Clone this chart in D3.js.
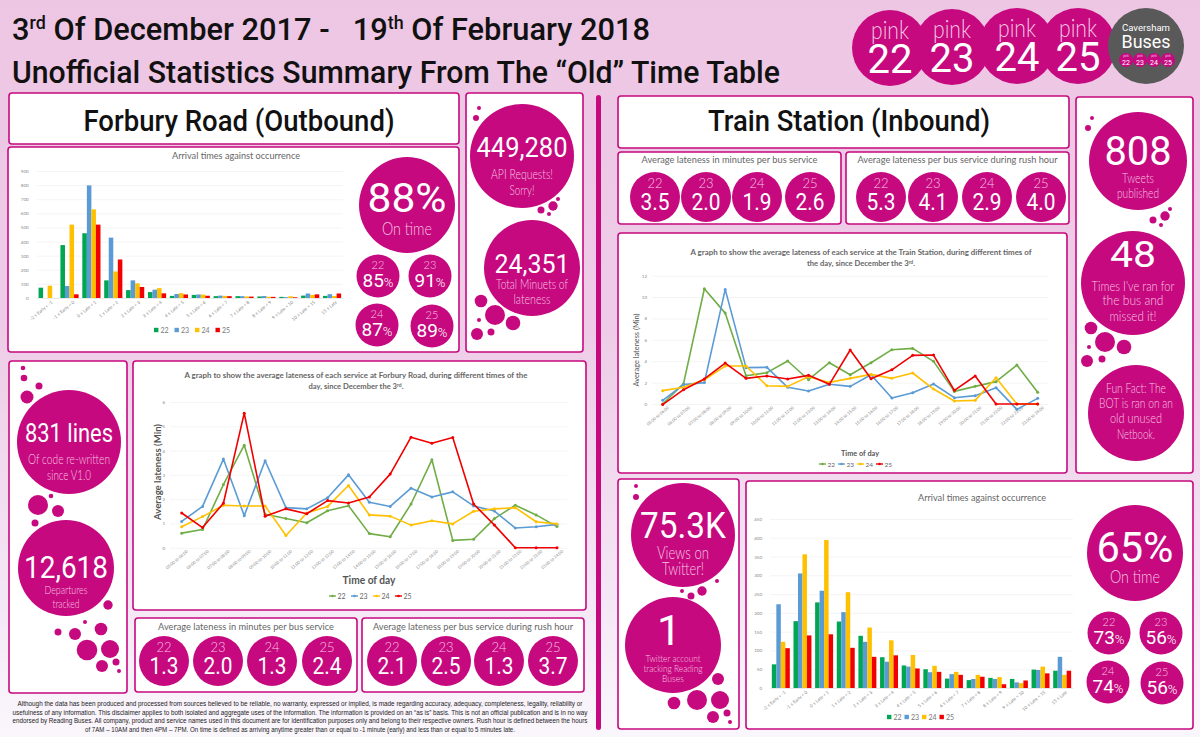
<!DOCTYPE html>
<html>
<head>
<meta charset="utf-8">
<script src="https://cdn.jsdelivr.net/npm/d3@7"></script>
<style>
html, body { margin: 0; padding: 0; background: #f5e6f3; overflow: hidden; }
svg { display: block; }
</style>
</head>
<body>
<div class="container"></div>
<script>
// services + values
const services = ["22", "23", "24", "25"]
const arrivalBands = ["-2 ≤ Early < -1", "-1 ≤ Early < 0", "0 ≤ Late < 1", "1 ≤ Late < 2", "2 ≤ Late < 3", "3 ≤ Late < 4", "4 ≤ Late < 5", "5 ≤ Late < 6", "6 ≤ Late < 7", "7 ≤ Late < 8", "8 ≤ Late < 9", "9 ≤ Late < 10", "10 ≤ Late < 15", "15 ≤ Late"]
const hours = ["05:00 to 06:00", "06:00 to 07:00", "07:00 to 08:00", "08:00 to 09:00", "09:00 to 10:00", "10:00 to 11:00", "11:00 to 12:00", "12:00 to 13:00", "13:00 to 14:00", "14:00 to 15:00", "15:00 to 16:00", "16:00 to 17:00", "17:00 to 18:00", "18:00 to 19:00", "19:00 to 20:00", "20:00 to 21:00", "21:00 to 22:00", "22:00 to 23:00", "23:00 to 24:00"]

const forburyArr22 = [73, 375, 459, 125, 56, 42, 15, 22, 13, 13, 11, 8, 17, 15]
const forburyArr23 = [0, 85, 798, 428, 125, 59, 28, 25, 17, 13, 14, 6, 32, 27]
const forburyArr24 = [87, 520, 628, 188, 104, 70, 34, 24, 15, 11, 9, 12, 22, 14]
const forburyArr25 = [0, 26, 520, 273, 78, 33, 25, 16, 13, 10, 8, 5, 26, 32]

const trainArr22 = [63, 178, 228, 177, 139, 82, 60, 50, 25, 21, 27, 24, 49, 46]
const trainArr23 = [223, 305, 259, 202, 123, 70, 57, 42, 37, 24, 24, 15, 48, 83]
const trainArr24 = [123, 356, 394, 255, 161, 127, 88, 59, 43, 35, 29, 13, 57, 35]
const trainArr25 = [106, 140, 143, 107, 83, 87, 52, 43, 35, 30, 10, 20, 39, 46]

const forburyLate22 = [0.6, 0.75, 2.6, 4.22, 1.38, 1.2, 1.03, 1.52, 1.73, 0.58, 0.45, 1.8, 3.62, 0.3, 0.35, 1.2, 1.75, 1.35, 0.87]
const forburyLate23 = [1.08, 1.7, 3.65, 1.32, 3.58, 1.65, 1.6, 2.06, 3.0, 1.87, 1.7, 2.45, 2.09, 2.3, 1.72, 1.51, 0.81, 0.86, 0.96]
const forburyLate24 = [0.86, 1.28, 1.75, 1.72, 1.72, 0.5, 1.43, 1.7, 2.56, 1.35, 1.3, 0.93, 1.11, 0.98, 1.5, 1.6, 1.65, 1.07, 0.98]
const forburyLate25 = [1.43, 0.83, 1.83, 5.54, 1.3, 1.6, 1.4, 1.94, 1.84, 2.09, 3.03, 4.55, 4.3, 4.54, 1.8, 0.93, 0, 0, 0]

const trainLate22 = [0, 1.9, 10.78, 8.5, 2.65, 2.93, 4.02, 2.27, 3.86, 2.74, 3.86, 5.08, 5.2, 3.99, 1.18, 1.65, 2.09, 3.64, 1.09]
const trainLate23 = [0.34, 1.81, 2.0, 10.72, 3.4, 3.43, 1.56, 1.21, 1.84, 1.65, 2.74, 0.56, 1.06, 1.87, 0.59, 0.78, 1.53, -0.5, 0.53]
const trainLate24 = [1.25, 1.56, 2.27, 3.55, 3.55, 1.71, 1.65, 2.55, 2.02, 2.4, 2.77, 2.4, 2.9, 1.4, 0.28, 0.34, 2.46, 0, 0]
const trainLate25 = [-0.05, 1.34, 2.34, 3.83, 2.4, 2.62, 2.34, 2.68, 1.84, 5.05, 2.37, 3.2, 4.55, 4.58, 1.28, 2.62, 0, 0, 0]

const forburyOnTime = ["85", "91", "87", "89"]
const trainOnTime = ["73", "56", "74", "56"]
const forburyAvg = ["1.3", "2.0", "1.3", "2.4"]
const forburyRush = ["2.1", "2.5", "1.3", "3.7"]
const trainAvg = ["3.5", "2.0", "1.9", "2.6"]
const trainRush = ["5.3", "4.1", "2.9", "4.0"]

const disclaimer = [
  "Although the data has been produced and processed from sources believed to be reliable, no warranty, expressed or implied, is made regarding accuracy, adequacy, completeness, legality, reliability or",
  "usefulness of any information. This disclaimer applies to both isolated and aggregate uses of the information. The information is provided on an “as is” basis. This is not an official publication and is in no way",
  "endorsed by Reading Buses. All company, product and service names used in this document are for identification purposes only and belong to their respective owners. Rush hour is defined between the hours",
  "of 7AM – 10AM and then 4PM – 7PM. On time is defined as arriving anytime greater than or equal to -1 minute (early) and less than or equal to 5 minutes late."
]

const PINK = "#c6097f"
const PALE = "#f6c4e2"
const barColors = ["#00a651", "#5b9bd5", "#ffc000", "#f00000"]
const lineColors = ["#70ad47", "#5b9bd5", "#ffc000", "#f00000"]
const NUM_FONT = "Roboto, sans-serif"
const THIN_FONT = "Lato, sans-serif"

const svg = d3.select(".container").append("svg").attr("width", 1200).attr("height", 737)

const grad = svg.append("defs").append("linearGradient").attr("id", "bg")
  .attr("x1", 0).attr("y1", 0).attr("x2", 0).attr("y2", 1)
grad.append("stop").attr("offset", "0%").attr("stop-color", "#edc6e3")
grad.append("stop").attr("offset", "45%").attr("stop-color", "#eeccE7")
grad.append("stop").attr("offset", "80%").attr("stop-color", "#f4e6f5")
grad.append("stop").attr("offset", "100%").attr("stop-color", "#faf7fc")
svg.append("rect").attr("width", 1200).attr("height", 737).attr("fill", "url(#bg)")

function txt(x, y, s, size, opts = {}) {
  const t = svg.append("text")
    .attr("x", x).attr("y", y)
    .attr("font-size", size)
    .attr("font-family", opts.font || NUM_FONT)
    .attr("font-weight", opts.weight || 400)
    .attr("fill", opts.fill || "#fff")
    .attr("text-anchor", opts.anchor || "middle")
    .text(s)
  if (opts.width) t.attr("textLength", opts.width).attr("lengthAdjust", "spacingAndGlyphs")
  return t
}

function panel(x0, y0, x1, y1) {
  svg.append("rect").attr("x", x0).attr("y", y0).attr("width", x1 - x0).attr("height", y1 - y0)
    .attr("rx", 3).attr("fill", "#fff").attr("stroke", PINK).attr("stroke-width", 1.6)
}

function blob(cx, cy, r, fill) {
  svg.append("circle").attr("cx", cx).attr("cy", cy).attr("r", r).attr("fill", fill || PINK)
}

// x, y, r of the little decorative bubbles
function bubbles(list) {
  list.forEach(b => blob(b[0], b[1], b[2]))
}

// sub text in a circle
function subLines(cx, lines, lineSize, lineBases, lineWidths) {
  lines.forEach((l, i) => txt(cx, lineBases[i], l, lineSize, {font: THIN_FONT, weight: 300, fill: PALE, width: lineWidths[i]}))
}

// large stat circle, lines = sub text under the number
function stat(cx, cy, r, value, size, width, base, lines, lineSize, lineBases, lineWidths = []) {
  blob(cx, cy, r)
  txt(cx, base, value, size, {weight: 400, width: width})
  subLines(cx, lines, lineSize, lineBases, lineWidths)
}

// small circle: service above, percentage below
function pct(cx, cy, service, value) {
  blob(cx, cy, 21.5)
  txt(cx, cy - 7, service, 11, {font: THIN_FONT, weight: 300, fill: PALE})
  const t = txt(cx, cy + 10.5, value, 19, {weight: 400})
  t.append("tspan").attr("font-size", 13).attr("font-weight", 300).text("%")
}

// row of four circles inside a lateness panel
function lateRow(x0, y0, x1, y1, title, titleWidth, values, centres, cy, titleY) {
  panel(x0, y0, x1, y1)
  txt((x0 + x1) / 2, titleY, title, 9.5, {font: THIN_FONT, fill: "#666", width: titleWidth})
  values.forEach((v, i) => {
    blob(centres[i], cy, 25)
    txt(centres[i], cy - 9, services[i], 13, {font: THIN_FONT, weight: 300, fill: PALE})
    txt(centres[i], cy + 13, v, 24, {weight: 400, width: 29})
  })
}

function barChart(series, box, maxY, tickStep, title, titleX, titleY, legendX, legendY) {
  const y = d3.scaleLinear().domain([0, maxY]).range([box.y0, box.y1])
  const x = d3.scaleBand().domain(arrivalBands).range([box.x0, box.x1]).paddingInner(0.17).paddingOuter(0.085)
  const xs = d3.scaleBand().domain(services).range([0, x.bandwidth()])

  const yAxis = d3.axisLeft(y).tickValues(d3.range(0, maxY + 1, tickStep)).tickSize(box.x0 - box.x1).tickPadding(8)
  const yG = svg.append("g").attr("transform", `translate(${box.x0},0)`).call(yAxis)
  yG.select(".domain").remove()
  yG.selectAll("line").attr("stroke", "#ececec").attr("stroke-width", 0.6)
  yG.selectAll("text").attr("font-size", 4.5).attr("fill", "#888").attr("font-family", THIN_FONT)

  series.forEach((vals, s) => {
    svg.append("g").selectAll("rect").data(vals).enter().append("rect")
      .attr("x", (d, i) => x(arrivalBands[i]) + xs(services[s]))
      .attr("y", d => y(d))
      .attr("width", xs.bandwidth())
      .attr("height", d => y(0) - y(d))
      .attr("fill", barColors[s])
  })

  const xG = svg.append("g").attr("transform", `translate(0,${box.y0})`).call(d3.axisBottom(x).tickSize(0).tickPadding(5))
  xG.select(".domain").attr("stroke", "#e0e0e0").attr("stroke-width", 0.6)
  xG.selectAll("text").attr("font-size", 4.5).attr("fill", "#888").attr("font-family", THIN_FONT)
    .attr("text-anchor", "end").attr("transform", "rotate(-40)").attr("dx", 1).attr("dy", 2)

  txt(titleX, titleY, title, 9.5, {font: THIN_FONT, fill: "#666", width: 128})
  services.forEach((s, i) => {
    svg.append("rect").attr("x", legendX + i * box.legendStep).attr("y", legendY - 2.2).attr("width", 4.4).attr("height", 4.4).attr("fill", barColors[i])
    txt(legendX + i * box.legendStep + 6.5, legendY + 2.6, s, 7, {font: THIN_FONT, fill: "#777", anchor: "start"})
  })
}

function lineChart(series, box, maxY, tickStep) {
  const y = d3.scaleLinear().domain([0, maxY]).range([box.y0, box.y1])
  const x = d3.scalePoint().domain(hours).range([box.xFirst, box.xLast])

  const yAxis = d3.axisLeft(y).tickValues(d3.range(0, maxY + 1, tickStep)).tickFormat(d3.format("d")).tickSize(box.gridL - box.gridR).tickPadding(5)
  const yG = svg.append("g").attr("transform", `translate(${box.gridL},0)`).call(yAxis)
  yG.select(".domain").remove()
  yG.selectAll("line").attr("stroke", "#efefef").attr("stroke-width", 0.7)
  yG.selectAll("text").attr("font-size", 4.5).attr("fill", "#888").attr("font-family", THIN_FONT)

  const xG = svg.append("g").attr("transform", `translate(0,${box.y0})`).call(d3.axisBottom(x).tickSize(0).tickPadding(box.tickPad))
  xG.select(".domain").remove()
  xG.selectAll("text").attr("font-size", 4.2).attr("fill", "#888").attr("font-family", THIN_FONT)
    .attr("text-anchor", "end").attr("transform", "rotate(-40)").attr("dx", 2).attr("dy", 2)

  const line = d3.line().x((d, i) => x(hours[i])).y(d => y(d))
  series.forEach((vals, s) => {
    svg.append("path").datum(vals).attr("d", line).attr("fill", "none")
      .attr("stroke", lineColors[s]).attr("stroke-width", 1.6).attr("stroke-linejoin", "round")
    svg.append("g").selectAll("circle").data(vals).enter().append("circle")
      .attr("cx", (d, i) => x(hours[i])).attr("cy", d => y(d)).attr("r", 1.5).attr("fill", lineColors[s])
  })
}

function lineLegend(x0, step, ly, size) {
  services.forEach((s, i) => {
    const lx = x0 + i * step
    svg.append("line").attr("x1", lx).attr("x2", lx + 7).attr("y1", ly).attr("y2", ly).attr("stroke", lineColors[i]).attr("stroke-width", 1.4)
    blob(lx + 3.5, ly, 1.3, lineColors[i])
    txt(lx + 8.5, ly + 2.6, s, size, {font: THIN_FONT, fill: "#666", anchor: "start"})
  })
}

// ---- header ----
const head1 = txt(12, 40, "", 31, {fill: "#111", anchor: "start", weight: 500})
head1.append("tspan").text("3")
head1.append("tspan").attr("font-size", 18).attr("dy", -11).text("rd")
head1.append("tspan").attr("dy", 11).text(" Of December 2017 -\u00a0\u00a0\u00a019")
head1.append("tspan").attr("font-size", 18).attr("dy", -11).text("th")
head1.append("tspan").attr("dy", 11).text(" Of February 2018")
head1.attr("textLength", 638).attr("lengthAdjust", "spacingAndGlyphs")
txt(12, 83, "Unofficial Statistics Summary From The “Old” Time Table", 31, {fill: "#111", anchor: "start", width: 768, weight: 500})

const pinkBadges = [["22", 890, 48], ["23", 952, 47], ["24", 1017, 46], ["25", 1078, 46]]
pinkBadges.forEach(b => {
  blob(b[1], b[2], 38)
  txt(b[1], b[2] - 9, "pink", 25, {font: THIN_FONT, weight: 300, fill: PALE, width: 38})
  txt(b[1], b[2] + 25, b[0], 40, {weight: 400})
})
blob(1146, 46, 38, "#595959")
txt(1146, 31, "Caversham", 9.5, {width: 48})
txt(1146, 48, "Buses", 19, {width: 49})
const miniX = d3.scalePoint().domain(services).range([1126, 1168])
services.forEach(s => {
  blob(miniX(s), 60, 7)
  txt(miniX(s), 56.5, "pink", 3, {font: THIN_FONT, fill: PALE})
  txt(miniX(s), 64.5, s, 7, {weight: 400})
})

// ---- divider ----
svg.append("rect").attr("x", 596).attr("y", 95).attr("width", 5).attr("height", 635).attr("rx", 2.5).attr("fill", PINK)

// ---- Forbury side ----
panel(9, 93, 459, 144)
txt(239, 131, "Forbury Road (Outbound)", 30, {fill: "#111", width: 311, weight: 500})

panel(8, 147, 459, 352)
barChart([forburyArr22, forburyArr23, forburyArr24, forburyArr25],
  {x0: 36.7, x1: 343, y0: 298, y1: 171, legendStep: 20.5},
  900, 100, "Arrival times against occurrence", 236, 159, 154, 330)

stat(407, 205, 48, "88%", 41, 79, 212, ["On time"], 17, [235], [50])
const forburyPct = [[378, 276], [430, 276], [377, 325], [432, 326]]
forburyOnTime.forEach((v, i) => pct(forburyPct[i][0], forburyPct[i][1], services[i], v))

panel(466, 93, 583, 352)
stat(522, 156, 52, "449,280", 27, 91, 157, ["API Requests!", "Sorry!"], 13.5, [179, 195], [62, 25])
stat(532, 268, 48, "24,351", 26, 75, 273, ["Total Minuets of", "lateness"], 13.5, [289, 304], [72, 37])
bubbles([[479, 108, 2], [476, 118, 3], [553, 206, 4.7], [558, 199, 2], [541, 210, 3.5], [549, 214, 2],
  [481, 301, 6.3], [495, 315, 10], [513, 323, 7.3], [479, 320, 2], [477, 334, 6], [491, 332, 3.5]])

panel(9, 361, 127, 693)
stat(69, 442, 52, "831 lines", 26, 88, 442, ["Of code re-written", "since V1.0"], 14, [464, 480], [82, 44])
stat(66, 568, 48, "12,618", 31, 84, 578, ["Departures", "tracked"], 12.5, [594, 608], [43, 27])
bubbles([[23, 368, 2.3], [24, 378, 3.3], [39, 386, 3.5], [27, 397, 6.5], [38, 505, 10], [51, 496, 2.3], [58, 511, 6], [35, 523, 3.5],
  [108, 605, 4.7], [85, 622, 2], [101, 629, 6.3], [58, 632, 3.5], [75, 634, 6], [87, 650, 10.3], [110, 649, 9], [102, 666, 6], [116, 662, 3.5], [119, 671, 2]])

panel(133, 361, 586, 610)
lineChart([forburyLate22, forburyLate23, forburyLate24, forburyLate25],
  {xFirst: 181.7, xLast: 557, gridL: 170, gridR: 567, y0: 547.7, y1: 402, tickPad: 5}, 6, 1)
txt(356, 378, "A graph to show the average lateness of each service at Forbury Road, during different times of the", 7.6, {weight: 700, fill: "#666", font: THIN_FONT, width: 343})
const t2 = txt(356, 389, "day, since December the 3", 7.6, {weight: 700, fill: "#666", font: THIN_FONT})
t2.append("tspan").attr("font-size", 5).attr("dy", -2.5).text("rd")
t2.append("tspan").attr("dy", 2.5).text(".")
txt(369, 584, "Time of day", 11.5, {weight: 700, fill: "#555", font: THIN_FONT, width: 53})
txt(161, 472, "Average lateness (Min)", 9.5, {weight: 700, fill: "#555", font: THIN_FONT, width: 96}).attr("transform", "rotate(-90 161 472)")
lineLegend(329, 22, 596, 7)

lateRow(135, 618, 357, 692, "Average lateness in minutes per bus service", 176, forburyAvg, [164, 218, 272, 327], 661, 630)
lateRow(362, 618, 584, 692, "Average lateness per bus service during rush hour", 200, forburyRush, [392, 446, 499, 553], 661, 630)

// ---- Train side ----
panel(618, 96, 1069, 148)
txt(849, 131, "Train Station (Inbound)", 30, {fill: "#111", width: 282, weight: 500})

lateRow(618, 152, 841, 224, "Average lateness in minutes per bus service", 176, trainAvg, [655, 706, 757, 810], 197, 163)
lateRow(846, 152, 1069, 224, "Average lateness per bus service during rush hour", 200, trainRush, [881, 933, 987, 1041], 197, 163)

panel(618, 233, 1067, 473)
lineChart([trainLate22, trainLate23, trainLate24, trainLate25],
  {xFirst: 662.7, xLast: 1037.7, gridL: 652, gridR: 1048, y0: 404, y1: 275.7, tickPad: 5}, 12, 2)
txt(861, 255, "A graph to show the average lateness of each service at the Train Station, during different times of", 7.6, {weight: 700, fill: "#666", font: THIN_FONT, width: 341})
const t3 = txt(861, 266, "the day, since December the 3", 7.6, {weight: 700, fill: "#666", font: THIN_FONT})
t3.append("tspan").attr("font-size", 5).attr("dy", -2.5).text("rd")
t3.append("tspan").attr("dy", 2.5).text(".")
txt(860, 456, "Time of day", 7.5, {weight: 700, fill: "#555", font: THIN_FONT, width: 38})
txt(639, 350, "Average lateness (Min)", 7.5, {fill: "#555", font: THIN_FONT, width: 73}).attr("transform", "rotate(-90 639 350)")
lineLegend(819, 19, 464, 6.5)

panel(1076, 97, 1193, 473)
stat(1138, 161, 49, "808", 41, 67, 165, ["Tweets", "published"], 13.5, [183, 198], [32, 42])
stat(1133, 283, 52, "48", 36, 46, 267, ["Times I've ran for", "the bus and", "missed it!"], 14.5, [291, 305, 321], [83, 61, 47])
blob(1136, 413, 48)
subLines(1136, ["Fun Fact: The", "BOT is ran on an", "old  unused", "Netbook."], 14, [393, 408, 423, 439], [60, 74, 52, 38])
bubbles([[1092, 118, 2], [1088, 128, 3], [1165, 216, 4.7], [1170, 209, 2], [1153, 220, 3.5], [1161, 225, 2],
  [1091, 328, 6.3], [1105, 342, 10], [1124, 347, 7.3], [1089, 347, 2], [1087, 361, 6], [1102, 359, 3.5]])

panel(618, 479, 739, 729)
stat(683, 535, 52, "75.3K", 36, 86, 538, ["Views on", "Twitter!"], 17, [559, 575], [52, 42])
blob(673, 645, 48)
txt(669, 645, "1", 43)
subLines(673, ["Twitter account", "tracking Reading", "Buses"], 10.5, [662, 672, 682], [55, 59, 22])
bubbles([[636, 486, 2], [636, 497, 3], [717, 581, 2], [702, 591, 4.7], [682, 591, 2], [691, 596, 3.5],
  [718, 679, 6], [697, 700, 10], [720, 700, 9], [674, 703, 6.3], [713, 717, 6], [727, 713, 3.5], [730, 722, 2]])

panel(746, 481, 1193, 729)
barChart([trainArr22, trainArr23, trainArr24, trainArr25],
  {x0: 770, x1: 1073, y0: 688, y1: 519, legendStep: 17.5},
  450, 50, "Arrival times against occurrence", 982, 501, 887, 717)

stat(1135, 553, 48, "65%", 43, 77, 562, ["On time"], 17, [583], [50])
const trainPct = [[1109, 633], [1161, 633], [1108, 682], [1162, 683]]
trainOnTime.forEach((v, i) => pct(trainPct[i][0], trainPct[i][1], services[i], v))

// ---- small print ----
const printWidths = [565, 575, 575, 430]
disclaimer.forEach((l, i) => {
  txt(300, [706, 715, 723, 732][i], l, 7, {font: "Liberation Sans, sans-serif", fill: "#222", width: printWidths[i]})
})
</script>
</body>
</html>
